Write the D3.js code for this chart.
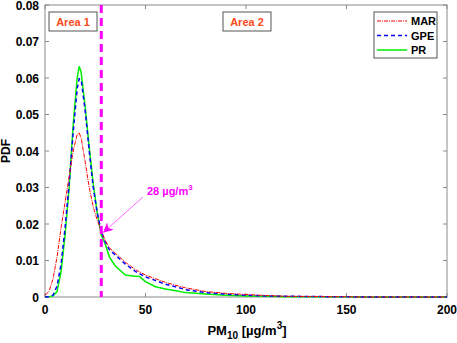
<!DOCTYPE html>
<html>
<head>
<meta charset="utf-8">
<script src="https://cdn.jsdelivr.net/npm/d3@7"></script>
<style>
  body { margin: 0; background: #fff; }
  svg { font-family: "Liberation Sans", Arial, sans-serif; font-weight: bold; }
</style>
</head>
<body>
<div id="chart"></div>
<script>
// PM10 の値（x）
var marX = [0, 2, 4, 6, 8, 10, 12, 14, 16, 17, 18, 20, 22, 24, 26, 28, 30, 32, 35, 40, 45, 50, 55, 60, 65, 70, 80, 90, 100, 110, 120, 140, 160, 200];
var marY = [0.0005, 0.0015, 0.005, 0.011, 0.019, 0.026, 0.033, 0.040, 0.0445, 0.045, 0.0435, 0.037, 0.030, 0.0247, 0.021, 0.018, 0.0155, 0.0135, 0.012, 0.0095, 0.0075, 0.006, 0.005, 0.004, 0.0032, 0.0025, 0.0015, 0.001, 0.0007, 0.0004, 0.0002, 0.0001, 0, 0];

var gpeX = [0, 2, 4, 6, 8, 10, 12, 14, 16, 17, 18, 20, 22, 24, 26, 28, 30, 32, 35, 40, 45, 50, 55, 60, 65, 70, 80, 90, 100, 110, 120, 140, 160, 200];
var gpeY = [0, 0.0001, 0.0005, 0.003, 0.009, 0.019, 0.031, 0.045, 0.057, 0.0598, 0.0595, 0.051, 0.040, 0.030, 0.023, 0.018, 0.015, 0.013, 0.0115, 0.009, 0.007, 0.0055, 0.0045, 0.0035, 0.0028, 0.002, 0.0012, 0.0008, 0.0005, 0.0003, 0.0002, 0.0001, 0, 0];

var prX = [0, 2, 4, 6, 8, 10, 12, 14, 16, 17, 18, 20, 22, 24, 26, 28, 30, 32, 35, 40, 45, 47, 50, 55, 60, 65, 70, 80, 90, 100, 110, 120, 140, 160, 200];
var prY = [0, 0.0001, 0.0003, 0.0015, 0.007, 0.017, 0.030, 0.047, 0.060, 0.0632, 0.0615, 0.052, 0.041, 0.031, 0.023, 0.017, 0.0145, 0.011, 0.0085, 0.006, 0.0057, 0.0056, 0.0042, 0.0028, 0.0022, 0.0017, 0.0012, 0.0008, 0.0005, 0.0003, 0.0002, 0.0001, 0.0001, 0, 0];

var seriesNames = ["MAR", "GPE", "PR"];
var xTicks = [0, 50, 100, 150, 200];
var yTicks = [0, 0.01, 0.02, 0.03, 0.04, 0.05, 0.06, 0.07, 0.08];
var threshold = 28;

// 描画領域の設定
var width = 457, height = 343;
var plotL = 45, plotR = 447, plotT = 5, plotB = 297;

var svg = d3.select("#chart").append("svg")
    .attr("width", width).attr("height", height);

var xScale = d3.scaleLinear().domain([0, 200]).range([plotL, plotR]);
var yScale = d3.scaleLinear().domain([0, 0.08]).range([plotB, plotT]);

var axisColor = "#8a8a8a";

// 枠
svg.append("rect")
    .attr("x", plotL).attr("y", plotT)
    .attr("width", plotR - plotL).attr("height", plotB - plotT)
    .attr("fill", "none").attr("stroke", axisColor).attr("stroke-width", 1);

// 目盛り（内向き、四辺）
var tl = 4;
xTicks.forEach(function (t) {
    var x = xScale(t);
    svg.append("line").attr("x1", x).attr("x2", x).attr("y1", plotB).attr("y2", plotB - tl).attr("stroke", axisColor);
    svg.append("line").attr("x1", x).attr("x2", x).attr("y1", plotT).attr("y2", plotT + tl).attr("stroke", axisColor);
    svg.append("text").attr("x", x).attr("y", 314)
        .attr("text-anchor", "middle").attr("font-size", 12).text(t);
});
yTicks.forEach(function (t) {
    var y = yScale(t);
    svg.append("line").attr("x1", plotL).attr("x2", plotL + tl).attr("y1", y).attr("y2", y).attr("stroke", axisColor);
    svg.append("line").attr("x1", plotR).attr("x2", plotR - tl).attr("y1", y).attr("y2", y).attr("stroke", axisColor);
    svg.append("text").attr("x", 39).attr("y", y + 4.5)
        .attr("text-anchor", "end").attr("font-size", 12).text(t === 0 ? "0" : t.toFixed(2));
});

// 軸ラベル
svg.append("text")
    .attr("transform", "translate(10," + ((plotT + plotB) / 2) + ") rotate(-90)")
    .attr("text-anchor", "middle").attr("font-size", 12).text("PDF");

var xl = svg.append("text").attr("x", xScale(100) + 1).attr("y", 335)
    .attr("text-anchor", "middle").attr("font-size", 13);
xl.append("tspan").text("PM");
xl.append("tspan").attr("font-size", 10).attr("dy", 4).text("10");
xl.append("tspan").attr("dy", -4).text(" [µg/m");
xl.append("tspan").attr("font-size", 10).attr("dy", -6).text("3");
xl.append("tspan").attr("dy", 6).text("]");

// 曲線
var line = d3.line()
    .x(function (d) { return xScale(d[0]); })
    .y(function (d) { return yScale(d[1]); });

function pairs(xs, ys) { return xs.map(function (x, i) { return [x, ys[i]]; }); }

var series = [
    { name: seriesNames[0], data: pairs(marX, marY), color: "#ff0000", dash: "4,1,1,1", w: 1 },
    { name: seriesNames[1], data: pairs(gpeX, gpeY), color: "#0000ff", dash: "4,3", w: 1.5 },
    { name: seriesNames[2], data: pairs(prX, prY), color: "#00ee00", dash: null, w: 1.5 }
];

// 描画順は PR → GPE → MAR
[series[2], series[1], series[0]].forEach(function (s) {
    svg.append("path").datum(s.data)
        .attr("d", line)
        .attr("fill", "none")
        .attr("stroke", s.color)
        .attr("stroke-width", s.w)
        .attr("stroke-dasharray", s.dash);
});

// 28 µg/m3 の縦線
svg.append("line")
    .attr("x1", xScale(threshold)).attr("x2", xScale(threshold))
    .attr("y1", plotT).attr("y2", plotB)
    .attr("stroke", "#ff00ff").attr("stroke-width", 3)
    .attr("stroke-dasharray", "8,5");

// Area ボックス
function areaBox(x, label) {
    svg.append("rect").attr("x", x).attr("y", 12).attr("width", 48).attr("height", 19)
        .attr("fill", "#fff").attr("stroke", "#555").attr("stroke-width", 1);
    svg.append("text").attr("x", x + 24).attr("y", 25.5)
        .attr("text-anchor", "middle").attr("font-size", 11).attr("fill", "#ff4a1a").text(label);
}
areaBox(49, "Area 1");
areaBox(223, "Area 2");

// 注釈矢印
svg.append("defs").append("marker")
    .attr("id", "ah").attr("viewBox", "0 0 10 10")
    .attr("refX", 9).attr("refY", 5)
    .attr("markerWidth", 10).attr("markerHeight", 10)
    .attr("markerUnits", "userSpaceOnUse")
    .attr("orient", "auto")
    .append("path").attr("d", "M0,0 L10,5 L0,10 L3,5 Z").attr("fill", "#ff00ff");

svg.append("line")
    .attr("x1", 143).attr("y1", 197)
    .attr("x2", xScale(threshold) + 2.5).attr("y2", yScale(0.0178))
    .attr("stroke", "#ff66ff").attr("stroke-width", 1)
    .attr("marker-end", "url(#ah)");

var ann = svg.append("text").attr("x", 147).attr("y", 195)
    .attr("font-size", 11).attr("fill", "#ff00ff");
ann.append("tspan").text("28 µg/m");
ann.append("tspan").attr("font-size", 8).attr("dy", -5).text("3");

// 凡例
var lg = svg.append("g").attr("transform", "translate(374,12)");
lg.append("rect").attr("width", 63).attr("height", 46)
    .attr("fill", "#fff").attr("stroke", "#555");
series.forEach(function (s, i) {
    var y = 9 + i * 14.5;
    lg.append("line").attr("x1", 3).attr("x2", 33).attr("y1", y).attr("y2", y)
        .attr("stroke", s.color).attr("stroke-width", s.w)
        .attr("stroke-dasharray", s.dash);
    lg.append("text").attr("x", 37).attr("y", y + 4).attr("font-size", 11).text(s.name);
});
</script>
</body>
</html>
